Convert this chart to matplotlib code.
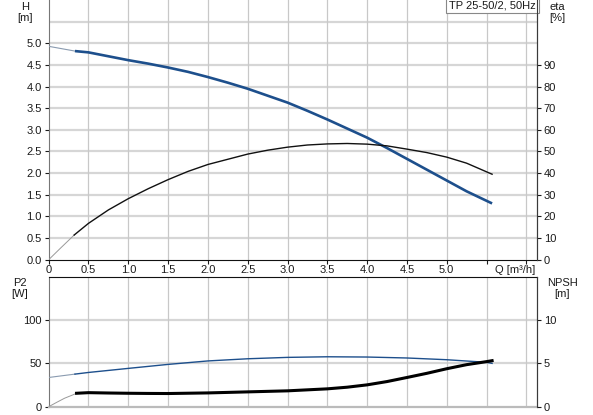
import matplotlib
matplotlib.use("Agg")
import matplotlib.pyplot as plt
import matplotlib.transforms as mtransforms

plt.rcParams['font.family'] = ['Liberation Sans', 'DejaVu Sans']
plt.rcParams['font.size'] = 8

# ---- data ----
q_head = [0.0, 0.33, 0.5, 0.75, 1.0, 1.25, 1.5, 1.75, 2.0, 2.25, 2.5, 2.75, 3.0,
          3.25, 3.5, 3.75, 4.0, 4.25, 4.5, 4.75, 5.0, 5.25, 5.57]
head = [4.93, 4.82, 4.79, 4.70, 4.61, 4.53, 4.44, 4.34, 4.22, 4.09, 3.95, 3.79, 3.63,
        3.44, 3.24, 3.03, 2.82, 2.58, 2.33, 2.08, 1.83, 1.58, 1.30]

q_eta = [0.0, 0.15, 0.32, 0.5, 0.75, 1.0, 1.25, 1.5, 1.75, 2.0, 2.25, 2.5, 2.75, 3.0,
         3.25, 3.5, 3.75, 4.0, 4.25, 4.5, 4.75, 5.0, 5.25, 5.57]
eta = [0.0, 5.4, 11.4, 16.8, 23.0, 28.2, 32.8, 37.0, 40.8, 44.0, 46.4, 48.8, 50.6, 52.0,
       53.0, 53.5, 53.7, 53.4, 52.6, 51.1, 49.5, 47.4, 44.6, 39.5]

q_p2 = [0.0, 0.33, 0.5, 1.0, 1.5, 2.0, 2.5, 3.0, 3.5, 4.0, 4.5, 5.0, 5.5, 5.57]
p2 = [33.7, 37.6, 39.5, 44.2, 48.8, 52.8, 55.3, 56.9, 57.6, 57.3, 56.2, 54.2, 51.2, 50.0]

q_npsh = [0.0, 0.1, 0.2, 0.3, 0.35, 0.5, 0.75, 1.0, 1.25, 1.5, 2.0, 2.5, 3.0, 3.5, 3.75,
          4.0, 4.25, 4.5, 4.75, 5.0, 5.25, 5.5, 5.57]
npsh = [0.0, 0.5, 0.98, 1.35, 1.55, 1.62, 1.58, 1.55, 1.53, 1.52, 1.59, 1.71, 1.83, 2.06,
        2.25, 2.52, 2.9, 3.37, 3.85, 4.38, 4.85, 5.2, 5.31]

q_ticks = [0, 0.5, 1.0, 1.5, 2.0, 2.5, 3.0, 3.5, 4.0, 4.5, 5.0, 5.5, 6.0]
q_ticklabels = ["0", "0.5", "1.0", "1.5", "2.0", "2.5", "3.0", "3.5", "4.0", "4.5", "5.0", "", ""]
h_ticks = [0.0, 0.5, 1.0, 1.5, 2.0, 2.5, 3.0, 3.5, 4.0, 4.5, 5.0]
eta_ticks = [0, 10, 20, 30, 40, 50, 60, 70, 80, 90]
p2_ticks = [0, 50, 100]
npsh_ticks = [0, 5, 10]

title_text = "TP 25-50/2, 50Hz"
Q_START = 0.33  # where curves become bold

BLUE = '#1d4f8c'
TXT = '#1a1a1a'
HGRID = '#d6d6d6'
VGRID = '#c8c8c8'
SPINE = '#3a3a3a'
FS = 8

fig = plt.figure(figsize=(5.93, 4.15), dpi=100)
XMAX = 6.13

def split(qs, vs, qcut):
    a_q = [q for q in qs if q <= qcut]
    a_v = [v for q, v in zip(qs, vs) if q <= qcut]
    b_q = [q for q in qs if q >= qcut]
    b_v = [v for q, v in zip(qs, vs) if q >= qcut]
    return a_q, a_v, b_q, b_v

# ---------------- top axes ----------------
ax = fig.add_axes([0.0821, 0.3742, 0.8229, 0.6258])
ax.set_xlim(0, XMAX)
ax.set_ylim(0, 6.0)
for y in [0.5 * i for i in range(1, 12)]:
    ax.axhline(y, color=HGRID, lw=1.6, zorder=0)
for x in q_ticks[1:]:
    ax.axvline(x, color=VGRID, lw=0.9, zorder=0)
ax.set_xticks(q_ticks)
ax.set_xticklabels(q_ticklabels)
ax.set_yticks(h_ticks)
ax.set_yticklabels([f"{v:.1f}" for v in h_ticks])
ax.tick_params(axis='both', colors=TXT, labelsize=FS, length=3, width=0.8, pad=2)
ax.tick_params(axis='x', pad=1.0)
ax.spines['top'].set_visible(False)
ax.spines['left'].set_color('#777777')
ax.spines['right'].set_color(SPINE)
ax.spines['bottom'].set_color('#111111')

a_q, a_v, b_q, b_v = split(q_head, head, Q_START)
ax.plot(a_q, a_v, color='#8a9bb0', lw=0.8, zorder=3)
ax.plot(b_q, b_v, color=BLUE, lw=1.9, zorder=3, solid_capstyle='butt')

ax2 = ax.twinx()
ax2.set_ylim(0, 120)
ax2.set_yticks(eta_ticks)
ax2.tick_params(axis='y', colors=TXT, labelsize=FS, length=3, width=0.8, pad=2)
for s in ['top', 'left', 'bottom']:
    ax2.spines[s].set_visible(False)
ax2.spines['right'].set_color(SPINE)
a_q, a_v, b_q, b_v = split(q_eta, eta, 0.32)
ax2.plot(a_q, a_v, color='#999999', lw=0.7, zorder=3)
ax2.plot(b_q, b_v, color='#111111', lw=1.0, zorder=3)

qlab_tr = mtransforms.blended_transform_factory(ax.transData, ax.transAxes) + \
    mtransforms.ScaledTranslation(0, -4.0 / 72, fig.dpi_scale_trans)
ax.text(5.855, 0, "Q [m³/h]", ha='center', va='top', fontsize=FS, color=TXT,
        transform=qlab_tr)

ax.text(0.9985, 0.999, title_text, transform=ax.transAxes, ha='right', va='top',
        fontsize=FS, color=TXT, zorder=5,
        bbox=dict(boxstyle='square,pad=0.25', fc='white', ec='#888888', lw=0.8))

fig.text(25 / 593, 1 - 7 / 415, "H", ha='center', va='center', fontsize=FS, color=TXT)
fig.text(25 / 593, 1 - 18 / 415, "[m]", ha='center', va='center', fontsize=FS, color=TXT)
fig.text(557 / 593, 1 - 7 / 415, "eta", ha='center', va='center', fontsize=FS, color=TXT)
fig.text(557 / 593, 1 - 18 / 415, "[%]", ha='center', va='center', fontsize=FS, color=TXT)

# ---------------- bottom axes ----------------
bx = fig.add_axes([0.0821, 0.020, 0.8229, 0.3133])
bx.set_xlim(0, XMAX)
bx.set_ylim(0, 150)
for y in [50, 100]:
    bx.axhline(y, color=HGRID, lw=1.6, zorder=0)
for x in q_ticks[1:]:
    bx.axvline(x, color=VGRID, lw=0.9, zorder=0)
bx.set_xticks([])
bx.set_yticks(p2_ticks)
bx.tick_params(axis='y', colors=TXT, labelsize=FS, length=3, width=0.8, pad=2)
bx.spines['top'].set_color('#111111')
bx.spines['left'].set_color('#777777')
bx.spines['right'].set_color(SPINE)
bx.spines['bottom'].set_color('#bbbbbb')
bx.spines['bottom'].set_linewidth(1.6)

a_q, a_v, b_q, b_v = split(q_p2, p2, Q_START)
bx.plot(a_q, a_v, color='#8a9bb0', lw=0.8, zorder=3)
bx.plot(b_q, b_v, color=BLUE, lw=1.0, zorder=3)

bx2 = bx.twinx()
bx2.set_ylim(0, 15)
bx2.set_yticks(npsh_ticks)
bx2.tick_params(axis='y', colors=TXT, labelsize=FS, length=3, width=0.8, pad=2)
for s in ['top', 'left', 'bottom']:
    bx2.spines[s].set_visible(False)
bx2.spines['right'].set_color(SPINE)
a_q, a_v, b_q, b_v = split(q_npsh, npsh, 0.35)
bx2.plot(a_q, a_v, color='#999999', lw=0.7, zorder=3)
bx2.plot(b_q, b_v, color='#000000', lw=2.2, zorder=3)

fig.text(20 / 593, 1 - 283 / 415, "P2", ha='center', va='center', fontsize=FS, color=TXT)
fig.text(20 / 593, 1 - 294 / 415, "[W]", ha='center', va='center', fontsize=FS, color=TXT)
fig.text(562 / 593, 1 - 283 / 415, "NPSH", ha='center', va='center', fontsize=FS, color=TXT)
fig.text(562 / 593, 1 - 294 / 415, "[m]", ha='center', va='center', fontsize=FS, color=TXT)

fig.savefig("out.png", dpi=100)
